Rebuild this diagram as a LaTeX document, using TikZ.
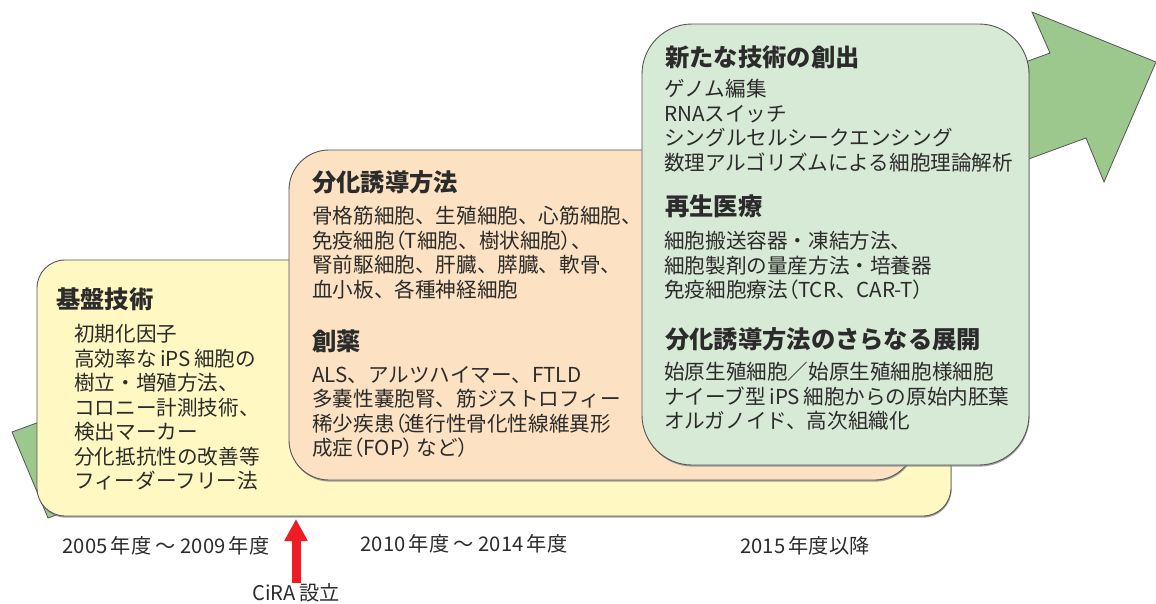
\documentclass[tikz,border=0pt]{standalone}
\usepackage{fontspec}
\setmainfont{Noto Sans CJK JP}
\newfontfamily\propfont{Noto Sans CJK JP}[RawFeature=+palt]
\newcommand{\kakkoL}{{\propfont （}}
\newcommand{\kakkoR}{{\propfont ）}}
\usetikzlibrary{arrows.meta,shadows}
\definecolor{arrowgreen}{HTML}{9CC88E}
\definecolor{boxyellow}{HTML}{FFF8C2}
\definecolor{boxorange}{HTML}{FCE2C2}
\definecolor{boxgreen}{HTML}{D7EAD5}
\definecolor{edgecol}{HTML}{555555}
\definecolor{txt}{HTML}{2B2B2B}
\definecolor{cirared}{HTML}{EE1D25}
\begin{document}
\begin{tikzpicture}[x=1pt,y=-1pt,
  bigarrow/.style={fill=arrowgreen, draw=edgecol, line width=0.8pt, line join=miter},
  panel/.style={draw=edgecol, line width=0.9pt,
    drop shadow={shadow xshift=0.6pt, shadow yshift=-1.6pt, fill=black!45, opacity=0.8}},
  headtext/.style={anchor=north west, inner sep=0pt, font=\fontsize{24.3}{28}\selectfont\bfseries, text=txt},
  bodytext/.style={anchor=north west, inner sep=0pt, align=left, font=\fontsize{20.6}{24.5}\selectfont, text=txt},
  yeartext/.style={inner sep=0pt, font=\fontsize{20.2}{24}\selectfont, text=txt},
  redarrow/.style={draw=cirared, line width=9pt, -{Triangle[width=22pt,length=22pt]}}
]
\useasboundingbox (0,0) rectangle (1156,603);

% big green arrow in the background
\path[bigarrow] (12,432) -- (1050,53) -- (1032,12) -- (1156,62) -- (1104,182) -- (1086,138) -- (48,518) -- cycle;

% panels
\draw[panel, fill=boxyellow, rounded corners=28pt] (37,260) rectangle (951,516);
\draw[panel, fill=boxorange, rounded corners=40pt] (289,150) rectangle (915,480);
\draw[panel, fill=boxgreen, rounded corners=50pt] (642,24) rectangle (1029,465);

% yellow panel text
\node[headtext] (h1) at (56,288) {基盤技術};
\node[bodytext] (b1) at (74,324) {初期化因子\\高効率な\,iPS\,細胞の\\樹立・増殖方法、\\コロニー計測技術、\\検出マーカー\\分化抵抗性の改善等\\フィーダーフリー法};

% orange panel text
\node[headtext] (h2) at (312,170) {分化誘導方法};
\node[bodytext] (b2) at (312,206) {骨格筋細胞、生殖細胞、心筋細胞、\\免疫細胞\kakkoL T細胞、樹状細胞\kakkoR 、\\腎前駆細胞、肝臓、膵臓、軟骨、\\血小板、各種神経細胞};
\node[headtext] (h3) at (312,330) {創薬};
\node[bodytext] (b3) at (312,366) {ALS、アルツハイマー、FTLD\\多嚢性嚢胞腎、筋ジストロフィー\\稀少疾患\kakkoL 進行性骨化性線維異形\\成症\kakkoL FOP\kakkoR\,など\kakkoR};

% green panel text
\node[headtext] (h4) at (665,46) {新たな技術の創出};
\node[bodytext] (b4) at (664,79) {ゲノム編集\\RNAスイッチ\\シングルセルシークエンシング\\数理アルゴリズムによる細胞理論解析};
\node[headtext] (h5) at (665,195) {再生医療};
\node[bodytext] (b5) at (664,231) {細胞搬送容器・凍結方法、\\細胞製剤の量産方法・培養器\\免疫細胞療法\kakkoL TCR、CAR-T\kakkoR};
\node[headtext] (h6) at (665,327) {分化誘導方法のさらなる展開};
\node[bodytext] (b6) at (664,362) {始原生殖細胞／始原生殖細胞様細胞\\ナイーブ型\,iPS\,細胞からの原始内胚葉\\オルガノイド、高次組織化};

% period labels
\node[yeartext] (y1) at (166,546) {2005\,年度 ～ 2009\,年度};
\node[yeartext] (y2) at (464,544) {2010\,年度 ～ 2014\,年度};
\node[yeartext] (y3) at (805,546) {2015\,年度以降};

% CiRA marker
\node[yeartext, anchor=north] (cira) at (296,583) {CiRA\,設立};
\coordinate (ciratip) at (296,519);
\draw[redarrow] (cira.north) -- (ciratip);
\end{tikzpicture}
\end{document}
